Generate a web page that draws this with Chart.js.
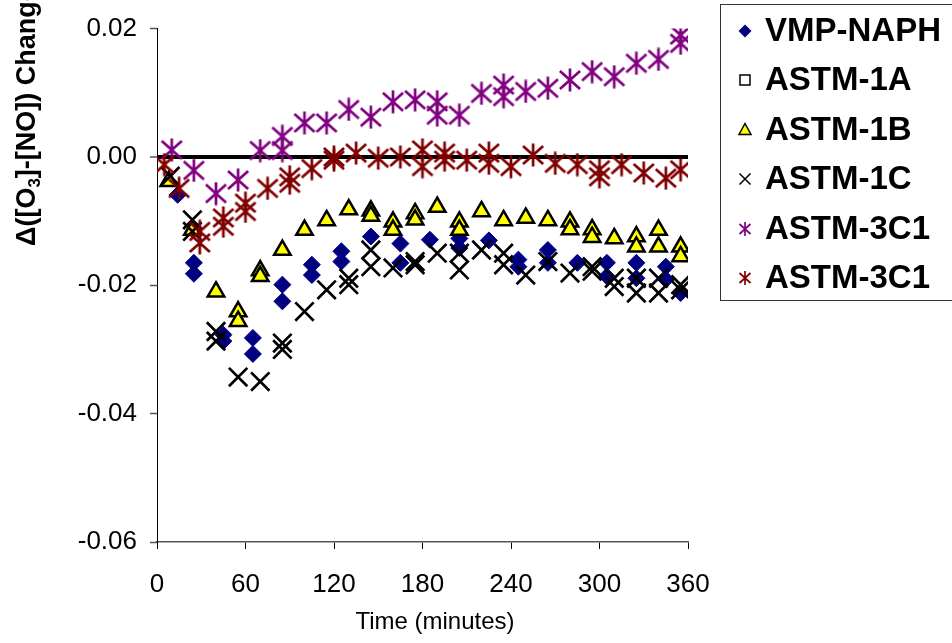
<!DOCTYPE html>
<html>
<head>
<meta charset="utf-8">
<script src="https://cdn.jsdelivr.net/npm/chart.js@4.4.1/dist/chart.umd.min.js"></script>
<style>
  body { margin: 0; background: #fff; }
  #wrap { width: 952px; height: 643px; }
</style>
</head>
<body>
<div id="wrap"><canvas id="chart" width="952" height="643"></canvas></div>
<script>
// series names, in legend order
const seriesNames = ['VMP-NAPH', 'ASTM-1A', 'ASTM-1B', 'ASTM-1C', 'ASTM-3C1', 'ASTM-3C1'];

// x = minutes, y = change
const vmpTime = [14, 25, 25, 45, 45, 65, 65, 85, 85, 105, 105, 125, 125, 145, 165, 165, 185, 205, 205, 225, 245, 245, 265, 265, 285, 305, 305, 325, 325, 345, 345, 355];
const vmpVal  = [-0.0059, -0.0165, -0.0182, -0.0277, -0.0287, -0.0282, -0.0307, -0.0199, -0.0225, -0.0168, -0.0184, -0.0147, -0.0163, -0.0124, -0.0135, -0.0165, -0.0129, -0.0127, -0.0142, -0.0130, -0.0160, -0.0171, -0.0145, -0.0165, -0.0165, -0.0165, -0.0186, -0.0165, -0.0189, -0.0171, -0.0191, -0.0212];

const astm1aTime = [];
const astm1aVal  = [];

const astm1bTime = [8, 24, 40, 55, 55, 70, 70, 85, 100, 115, 130, 145, 145, 160, 160, 175, 175, 190, 205, 205, 220, 235, 250, 265, 280, 280, 295, 295, 310, 325, 325, 340, 340, 355, 355];
const astm1bVal  = [-0.0038, -0.0114, -0.0210, -0.0241, -0.0256, -0.0177, -0.0186, -0.0145, -0.0114, -0.0099, -0.0082, -0.0084, -0.0092, -0.0101, -0.0114, -0.0088, -0.0098, -0.0078, -0.0101, -0.0114, -0.0085, -0.0099, -0.0095, -0.0099, -0.0101, -0.0113, -0.0113, -0.0125, -0.0127, -0.0124, -0.0140, -0.0114, -0.0140, -0.0140, -0.0155];

const astm1cTime = [9, 24, 24, 40, 40, 55, 70, 85, 85, 100, 115, 130, 130, 145, 145, 160, 175, 175, 190, 205, 205, 220, 235, 235, 250, 265, 280, 295, 295, 310, 310, 325, 325, 340, 340, 355, 355];
const astm1cVal  = [-0.0030, -0.0098, -0.0116, -0.0272, -0.0287, -0.0343, -0.0350, -0.0290, -0.0300, -0.0241, -0.0207, -0.0189, -0.0199, -0.0145, -0.0171, -0.0173, -0.0163, -0.0168, -0.0150, -0.0150, -0.0176, -0.0145, -0.0150, -0.0168, -0.0184, -0.0163, -0.0181, -0.0171, -0.0178, -0.0189, -0.0202, -0.0189, -0.0212, -0.0189, -0.0212, -0.0199, -0.0207];

const astm3aTime = [10, 25, 40, 55, 70, 85, 85, 100, 115, 130, 145, 160, 175, 190, 190, 205, 220, 235, 235, 250, 265, 280, 295, 310, 325, 340, 355, 355];
const astm3aVal  = [0.0011, -0.0021, -0.0057, -0.0036, 0.0010, 0.0010, 0.0032, 0.0053, 0.0053, 0.0074, 0.0062, 0.0086, 0.0089, 0.0086, 0.0065, 0.0065, 0.0099, 0.0112, 0.0094, 0.0102, 0.0107, 0.0120, 0.0133, 0.0125, 0.0146, 0.0152, 0.0190, 0.0177];

const astm3bTime = [5, 15, 29, 29, 45, 45, 60, 60, 75, 90, 90, 105, 120, 120, 135, 150, 165, 180, 180, 195, 195, 210, 225, 225, 240, 255, 270, 285, 300, 300, 315, 330, 345, 355];
const astm3bVal  = [-0.0012, -0.0049, -0.0116, -0.0134, -0.0095, -0.0108, -0.0072, -0.0085, -0.0049, -0.0031, -0.0041, -0.0018, 0.0000, -0.0005, 0.0006, -0.0002, 0.0000, 0.0011, -0.0015, 0.0006, -0.0005, -0.0005, 0.0006, -0.0010, -0.0015, 0.0003, -0.0010, -0.0012, -0.0020, -0.0031, -0.0012, -0.0025, -0.0033, -0.0020];

const xTicks = [0, 60, 120, 180, 240, 300, 360];
const yTicks = [-0.06, -0.04, -0.02, 0.00, 0.02];

const FONT = '"Liberation Sans", Arial, sans-serif';

function toPoints(t, v) {
    return t.map((x, i) => ({ x: x, y: v[i] }));
}

// excel style asterisk: an X with a vertical bar
function asteriskImage(color, size, lw) {
    const c = document.createElement('canvas');
    c.width = size; c.height = size;
    const g = c.getContext('2d');
    const m = size / 2, a = size * 0.42, v = size * 0.48;
    g.strokeStyle = color;
    g.lineWidth = lw;
    g.beginPath();
    g.moveTo(m - a, m - a * 0.9); g.lineTo(m + a, m + a * 0.9);
    g.moveTo(m + a, m - a * 0.9); g.lineTo(m - a, m + a * 0.9);
    g.moveTo(m, m - v); g.lineTo(m, m + v);
    g.stroke();
    return c;
}

const purpleStar = asteriskImage('#800080', 24, 2.7);
const redStar = asteriskImage('#800000', 24, 2.7);

// draws the legend box and titles
const extras = {
    id: 'extras',
    afterDraw(chart) {
        const ctx = chart.ctx;
        ctx.save();

        // x title
        ctx.fillStyle = '#000';
        ctx.font = '24px ' + FONT;
        ctx.textAlign = 'center';
        ctx.textBaseline = 'middle';
        ctx.fillText('Time (minutes)', 435, 622);

        // y title, rotated, with subscript
        ctx.save();
        ctx.translate(28, 246);
        ctx.rotate(-Math.PI / 2);
        ctx.textAlign = 'left';
        ctx.textBaseline = 'middle';
        let x = 0;
        const parts = [['\u0394([O', false], ['3', true], [']-[NO]) Change', false]];
        parts.forEach(p => {
            ctx.font = (p[1] ? 'bold 17px ' : 'bold 27px ') + FONT;
            ctx.fillText(p[0], x, p[1] ? 7 : 0);
            x += ctx.measureText(p[0]).width;
        });
        ctx.restore();

        // legend
        ctx.strokeStyle = '#333';
        ctx.lineWidth = 1;
        ctx.strokeRect(720.5, 4.5, 260, 296);
        const rows = [31, 80, 130, 179, 229, 278];
        const mx = 745;
        ctx.font = 'bold 33px ' + FONT;
        ctx.textAlign = 'left';
        ctx.textBaseline = 'middle';
        seriesNames.forEach((name, i) => {
            const y = rows[i];
            ctx.fillStyle = '#000';
            ctx.fillText(name, 765, y + 1);
            ctx.beginPath();
            if (i === 0) {
                ctx.fillStyle = '#000080';
                ctx.moveTo(mx, y - 6.5); ctx.lineTo(mx + 6.5, y); ctx.lineTo(mx, y + 6.5); ctx.lineTo(mx - 6.5, y);
                ctx.closePath(); ctx.fill();
            } else if (i === 1) {
                ctx.fillStyle = '#fff';
                ctx.strokeStyle = '#000';
                ctx.lineWidth = 1.5;
                ctx.rect(mx - 5, y - 5, 10, 10);
                ctx.fill(); ctx.stroke();
            } else if (i === 2) {
                ctx.fillStyle = '#ffff00';
                ctx.strokeStyle = '#000';
                ctx.lineWidth = 1.5;
                ctx.moveTo(mx, y - 6.5); ctx.lineTo(mx + 6, y + 4.5); ctx.lineTo(mx - 6, y + 4.5);
                ctx.closePath(); ctx.fill(); ctx.stroke();
            } else if (i === 3) {
                ctx.strokeStyle = '#000';
                ctx.lineWidth = 1.5;
                ctx.moveTo(mx - 5.5, y - 5.5); ctx.lineTo(mx + 5.5, y + 5.5);
                ctx.moveTo(mx + 5.5, y - 5.5); ctx.lineTo(mx - 5.5, y + 5.5);
                ctx.stroke();
            } else {
                ctx.strokeStyle = i === 4 ? '#800080' : '#800000';
                ctx.lineWidth = 1.7;
                ctx.moveTo(mx - 5.5, y - 5); ctx.lineTo(mx + 5.5, y + 5);
                ctx.moveTo(mx + 5.5, y - 5); ctx.lineTo(mx - 5.5, y + 5);
                ctx.moveTo(mx, y - 7); ctx.lineTo(mx, y + 7);
                ctx.stroke();
            }
        });
        ctx.restore();
    }
};

const ctx = document.getElementById('chart').getContext('2d');
const chart = new Chart(ctx, {
    type: 'scatter',
    data: {
        datasets: [
            {
                label: seriesNames[0], data: toPoints(vmpTime, vmpVal), order: 6,
                pointStyle: 'rectRot', pointRadius: 8.5, backgroundColor: '#000080', borderColor: '#000080', borderWidth: 1
            },
            {
                label: seriesNames[1], data: toPoints(astm1aTime, astm1aVal), order: 5,
                pointStyle: 'rect', pointRadius: 7, backgroundColor: '#fff', borderColor: '#000', borderWidth: 1.5
            },
            {
                label: seriesNames[2], data: toPoints(astm1bTime, astm1bVal), order: 4,
                pointStyle: 'triangle', pointRadius: 9.5, backgroundColor: '#ffff00', borderColor: '#000', borderWidth: 2.5
            },
            {
                label: seriesNames[3], data: toPoints(astm1cTime, astm1cVal), order: 3,
                pointStyle: 'crossRot', pointRadius: 13, borderColor: '#000', borderWidth: 2.7
            },
            {
                label: seriesNames[4], data: toPoints(astm3aTime, astm3aVal), order: 2,
                pointStyle: purpleStar, borderColor: '#800080'
            },
            {
                label: seriesNames[5], data: toPoints(astm3bTime, astm3bVal), order: 1,
                pointStyle: redStar, borderColor: '#800000'
            }
        ]
    },
    options: {
        responsive: false,
        animation: false,
        layout: { padding: { top: 28, right: 264, left: 0, bottom: 0 } },
        plugins: {
            legend: { display: false },
            tooltip: { enabled: false }
        },
        scales: {
            x: {
                type: 'linear',
                min: 0, max: 360,
                afterFit: (s) => { s.height = 101; },
                afterBuildTicks: (s) => { s.ticks = xTicks.map(v => ({ value: v })); },
                border: { color: '#555', width: 1.5 },
                grid: { drawOnChartArea: false, tickLength: 7, tickColor: '#000', tickWidth: 1 },
                ticks: { color: '#000', font: { family: FONT, size: 26 }, padding: 20, maxRotation: 0 }
            },
            y: {
                type: 'linear',
                min: -0.06, max: 0.02,
                afterFit: (s) => { s.width = 157; },
                afterBuildTicks: (s) => { s.ticks = yTicks.map(v => ({ value: v })); },
                border: { color: '#000', width: 1 },
                grid: {
                    drawOnChartArea: true,
                    color: (c) => (c.tick && Math.abs(c.tick.value) < 1e-9) ? '#000' : 'rgba(0,0,0,0)',
                    lineWidth: (c) => (c.tick && Math.abs(c.tick.value) < 1e-9) ? 4 : 1,
                    tickLength: 7, tickColor: '#555', tickWidth: 1.5
                },
                ticks: {
                    color: '#000', font: { family: FONT, size: 26 }, padding: 13,
                    callback: (v) => Number(v).toFixed(2)
                }
            }
        }
    },
    plugins: [extras]
});
</script>
</body>
</html>
